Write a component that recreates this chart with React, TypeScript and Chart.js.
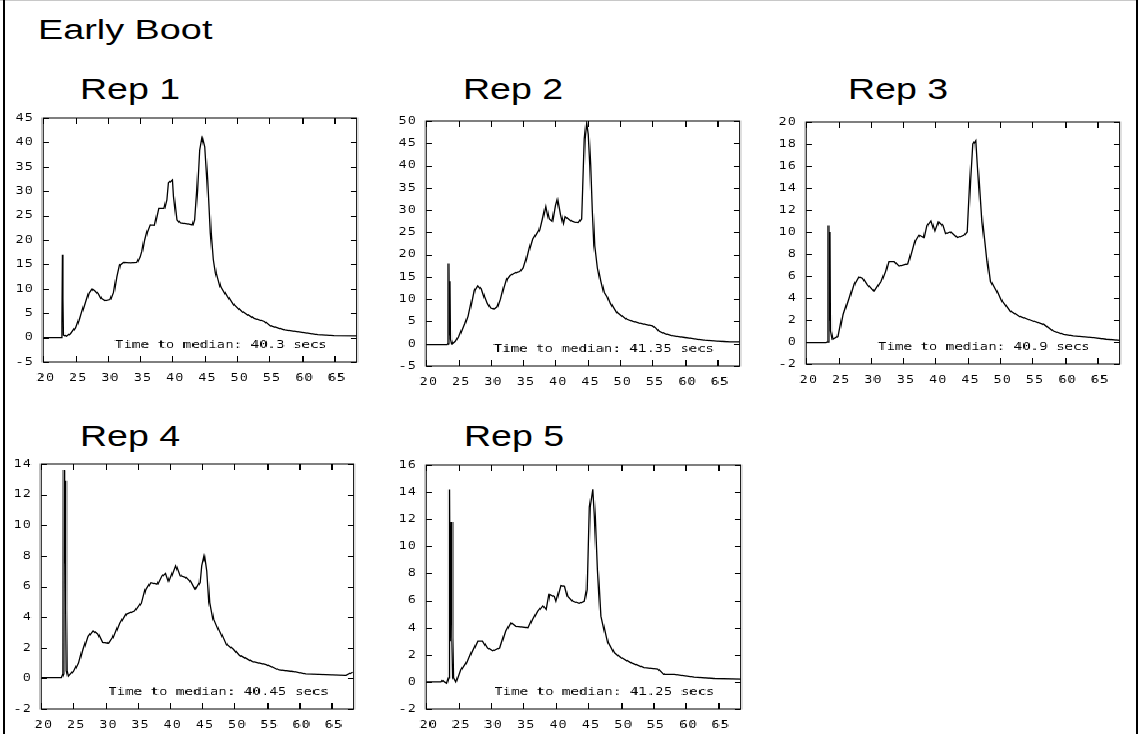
import { useEffect, useRef } from "react";
import { Chart, registerables } from "chart.js";

Chart.register(...registerables);

// Trace samples per replicate: [seconds, rate]
const rep1Trace: [number, number][] = [
  [20.0, 0], [22.8, 0], [22.9, 3], [23.0, 17], [23.1, 8], [23.2, 0.5], [23.6, 0.3], [24.2, 0.8],
  [25.0, 2], [25.5, 3.5], [26.0, 5.3], [26.5, 7], [27.1, 9.1], [27.6, 9.9], [28.0, 9.6], [28.5, 9],
  [29.0, 8], [29.6, 7.6], [30.4, 7.8], [30.9, 9.2], [31.4, 12.5], [31.9, 14.9], [32.5, 15.4],
  [33.5, 15.3], [34.5, 15.4], [35.0, 16.5], [35.3, 17.6], [35.7, 20], [36.1, 21.7], [36.6, 23.1],
  [37.2, 23], [37.6, 25], [37.9, 26.5], [38.7, 26.5], [39.1, 28.2], [39.4, 31.7], [40.0, 32.3],
  [40.2, 28.9], [40.7, 24.1], [41.2, 23.5], [42.3, 23.3], [43.1, 23.1], [43.4, 24.1], [43.8, 30.2],
  [44.2, 38.4], [44.6, 40.8], [45.0, 39.1], [45.4, 32.3], [45.9, 21.4], [46.3, 16], [46.7, 13.2],
  [47.4, 10.4], [48.5, 8.4], [49.5, 6.7], [50.8, 5.3], [52.6, 3.95], [54.2, 3.3], [55.2, 2.4],
  [57.3, 1.6], [59.8, 1.1], [62.4, 0.6], [65.0, 0.4], [68.6, 0.35],
];

const rep2Trace: [number, number][] = [
  [20, -0.2], [23.3, -0.2], [23.45, 0], [23.5, 18], [23.6, 2], [23.7, 14], [23.8, 1], [24.0, 0],
  [24.5, 0.5], [25, 1.5], [26, 4.5], [26.5, 6.2], [27, 9], [27.5, 12], [28, 13], [28.5, 12.3],
  [29, 10.5], [29.5, 9], [30, 8], [30.5, 7.8], [31, 8.3], [31.5, 10], [32, 12.5], [32.5, 14.5],
  [33, 15.3], [33.5, 15.7], [34, 16], [34.5, 16.2], [35, 17], [35.5, 19], [36, 21.5], [36.5, 23.5],
  [37, 24.5], [37.5, 25.5], [38, 28], [38.5, 30.8], [38.8, 29], [39, 28], [39.5, 27.5], [40, 31],
  [40.3, 32.3], [40.8, 29], [41.2, 27], [41.5, 28.5], [42, 28], [42.5, 27.5], [43, 27.3],
  [43.5, 27.2], [44, 28], [44.2, 35], [44.5, 46], [44.8, 49.5], [45.1, 47], [45.4, 40], [45.7, 30],
  [46, 22], [46.5, 17], [47, 14], [47.5, 11.5], [48, 10.5], [48.5, 9], [49, 8], [49.5, 7],
  [50, 6.5], [51, 5.5], [52, 5], [53, 4.6], [54, 4.3], [55, 4], [55.5, 3.5], [56, 2.8], [57, 2.2],
  [58, 1.8], [59, 1.6], [60, 1.4], [61, 1.2], [62, 1.0], [63, 0.8], [64, 0.7], [65, 0.6],
  [66, 0.5], [67, 0.4], [68.6, 0.4],
];

const rep3Trace: [number, number][] = [
  [20, -0.05], [23.1, -0.05], [23.4, 0], [23.5, 10.6], [23.6, 2], [23.7, 10], [23.8, 1],
  [24.1, 0.25], [24.9, 0.5], [25.7, 2.5], [26.7, 4], [27.5, 5.3], [28.2, 5.9], [28.7, 5.8],
  [29.5, 5.2], [30.5, 4.65], [31.6, 5.5], [32.3, 6.4], [32.8, 7.3], [33.6, 7.3], [34.4, 6.9],
  [35.7, 7.1], [36.4, 8.3], [36.9, 9.2], [37.5, 9.7], [38.2, 9.5], [38.7, 10.6], [39.3, 11.0],
  [39.9, 10.1], [40.5, 10.9], [41.1, 10.6], [41.6, 9.85], [42.3, 10], [43.4, 9.5], [44.4, 9.7],
  [44.9, 10], [45.4, 14.8], [45.8, 18], [46.2, 18.3], [46.5, 16], [47.2, 10.9], [48.0, 7.3],
  [48.5, 5.5], [49.5, 4.6], [50.3, 3.7], [51.6, 2.8], [53.1, 2.3], [54.6, 2.0], [56.7, 1.6],
  [58.2, 1.0], [59.8, 0.7], [61.3, 0.55], [64.4, 0.4], [66.4, 0.25], [68.6, 0.15],
];

const rep4Trace: [number, number][] = [
  [20, 0.05], [23.2, 0.05], [23.5, 0.3], [23.57, 13.6], [23.65, 7.5], [23.75, 12.9], [23.85, 4.5],
  [23.95, 0.5], [24.2, 0.15], [25, 0.45], [25.8, 1.0], [26.5, 1.9], [27.3, 2.75], [28.1, 3.1],
  [28.8, 2.9], [29.6, 2.35], [30.4, 2.3], [31.1, 2.65], [32.2, 3.6], [33.2, 4.2], [34.5, 4.4],
  [35.5, 4.9], [36.2, 5.8], [37.0, 6.25], [38.0, 6.15], [38.8, 6.7], [39.3, 6.85], [39.8, 6.35],
  [40.3, 6.8], [40.9, 7.35], [41.6, 6.7], [42.4, 6.6], [43.1, 6.35], [43.9, 5.85], [44.6, 6.25],
  [44.9, 7.35], [45.3, 7.95], [45.7, 7.0], [46.1, 4.95], [46.7, 3.85], [47.5, 3.2], [48.8, 2.2],
  [49.8, 1.9], [50.8, 1.5], [52.8, 1.1], [54.9, 0.9], [56.9, 0.55], [59.0, 0.45], [61.0, 0.3],
  [64.1, 0.25], [67.2, 0.2], [68.3, 0.4],
];

const rep5Trace: [number, number][] = [
  [20, 0], [22.3, 0], [22.5, 0.1], [22.8, 0], [23.2, -0.1], [23.5, 0.3], [23.6, 14.2],
  [23.75, 3], [23.9, 11.8], [24.05, 3.3], [24.2, 0.3], [24.6, 0], [25.4, 0.9], [26.2, 1.4],
  [27.0, 2.15], [28.0, 3.0], [28.7, 3.0], [29.5, 2.5], [30.3, 2.3], [31.3, 2.5], [32.3, 3.75],
  [33.1, 4.35], [33.9, 4.1], [35.7, 4.0], [36.4, 4.6], [37.2, 5.2], [38.0, 5.6], [38.5, 5.35],
  [39.0, 6.45], [39.7, 6.3], [40.0, 5.95], [40.8, 7.1], [41.3, 7.05], [41.8, 6.3], [42.6, 5.95],
  [43.6, 5.8], [44.4, 5.95], [44.8, 6.8], [45.2, 12.9], [45.7, 14.2], [46.0, 12.2], [46.4, 8.3],
  [46.9, 4.85], [48.0, 2.9], [49.0, 2.15], [50.0, 1.8], [51.6, 1.4], [53.6, 1.05], [55.7, 0.95],
  [56.7, 0.55], [58.2, 0.55], [61.3, 0.35], [64.4, 0.25], [68.6, 0.2],
];

const repTraces = [rep1Trace, rep2Trace, rep3Trace, rep4Trace, rep5Trace];
const repNames = ["Rep 1", "Rep 2", "Rep 3", "Rep 4", "Rep 5"];
const medianSeconds = [40.3, 41.35, 40.9, 40.45, 41.25];
const yMins = [-5, -5, -2, -2, -2];
const yMaxs = [45, 50, 20, 14, 16];
const ySteps = [5, 5, 2, 2, 2];
const xMin = 20;
const xMax = 68.5;
const xStep = 5;

// Plot-box placement on the page (left, top, right, bottom) and title anchors
const PANEL_BOXES = [
  { l: 43, t: 118, r: 357, b: 362 },
  { l: 426, t: 121, r: 740, b: 366 },
  { l: 806, t: 122, r: 1120, b: 364 },
  { l: 41, t: 464, r: 354, b: 709 },
  { l: 426, t: 465, r: 741, b: 709 },
];
const TITLE_POS = [
  { x: 80, y: 74 },
  { x: 463, y: 74 },
  { x: 848, y: 74 },
  { x: 80, y: 421 },
  { x: 464, y: 421 },
];

// horizontal stretch of the plot canvases
const S = 1.28;
const PAD_L = 40;
const PAD_T = 12;
const PAD_R = 12;
const PAD_B = 30;

const framePlugin = {
  id: "frameTicks",
  beforeDraw(chart: any) {
    chart.ctx.letterSpacing = "0.6px";
  },
  afterDraw(chart: any, _args: any, opts: any) {
    const { ctx, chartArea: a, scales } = chart;
    const x = scales.x;
    const y = scales.y;
    ctx.save();
    ctx.strokeStyle = "#000";
    ctx.lineWidth = 1;
    ctx.strokeRect(a.left, a.top, a.right - a.left, a.bottom - a.top);
    ctx.beginPath();
    const tlx = 6;
    const tly = 6 / S;
    x.ticks.forEach((t: any) => {
      const px = Math.round(x.getPixelForValue(t.value)) + 0.5;
      ctx.moveTo(px, a.top);
      ctx.lineTo(px, a.top + tlx);
      ctx.moveTo(px, a.bottom);
      ctx.lineTo(px, a.bottom - tlx);
    });
    y.ticks.forEach((t: any) => {
      const py = Math.round(y.getPixelForValue(t.value)) + 0.5;
      ctx.moveTo(a.left, py);
      ctx.lineTo(a.left + tly, py);
      ctx.moveTo(a.right, py);
      ctx.lineTo(a.right - tly, py);
    });
    ctx.stroke();
    ctx.letterSpacing = "0px";
    ctx.font = '11px "DejaVu Sans Mono", monospace';
    ctx.fillStyle = "#000";
    ctx.textAlign = "center";
    ctx.textBaseline = "middle";
    ctx.fillText(opts.text, (a.left + a.right) / 2 + 21 / S, a.bottom - 17);
    ctx.restore();
  },
};

function Panel({ idx }: { idx: number }) {
  const ref = useRef<HTMLCanvasElement>(null);
  const box = PANEL_BOXES[idx];
  const dispW = box.r - box.l + PAD_L + PAD_R;
  const dispH = box.b - box.t + PAD_T + PAD_B;
  const innerW = Math.round(dispW / S);

  useEffect(() => {
    const canvas = ref.current;
    if (!canvas) return;
    const tickFont = { family: '"DejaVu Sans Mono", monospace', size: 11 };
    const chart = new Chart(canvas, {
      type: "line",
      data: {
        datasets: [
          {
            data: repTraces[idx].map(([t, v]) => ({ x: t, y: v })),
            borderColor: "#000",
            borderWidth: 1.3,
            pointRadius: 0,
            tension: 0,
            fill: false,
          },
        ],
      },
      options: {
        responsive: false,
        animation: false,
        devicePixelRatio: 1,
        layout: { padding: { top: PAD_T, right: PAD_R / S, left: 0, bottom: 0 } },
        plugins: {
          legend: { display: false },
          tooltip: { enabled: false },
          frameTicks: { text: `Time to median: ${medianSeconds[idx]} secs` },
        } as any,
        scales: {
          x: {
            type: "linear",
            min: xMin,
            max: xMax,
            grid: { display: false, drawTicks: false },
            border: { display: false },
            ticks: {
              stepSize: xStep,
              includeBounds: false,
              autoSkip: false,
              maxRotation: 0,
              color: "#000",
              font: tickFont,
              padding: 10,
              labelOffset: 2,
            },
            afterFit: (s: any) => {
              s.height = PAD_B;
              s.paddingLeft = 0;
              s.paddingRight = 0;
            },
          },
          y: {
            type: "linear",
            min: yMins[idx],
            max: yMaxs[idx],
            grid: { display: false, drawTicks: false },
            border: { display: false },
            ticks: {
              stepSize: ySteps[idx],
              includeBounds: false,
              autoSkip: false,
              color: "#000",
              font: tickFont,
              padding: 7,
            },
            afterFit: (s: any) => {
              s.width = PAD_L / S;
              s.paddingTop = 0;
              s.paddingBottom = 0;
            },
          },
        },
      },
      plugins: [framePlugin as any],
    });
    return () => chart.destroy();
  }, [idx]);

  return (
    <canvas
      ref={ref}
      width={innerW}
      height={dispH}
      style={{
        position: "absolute",
        left: box.l - PAD_L,
        top: box.t - PAD_T,
        width: dispW,
        height: dispH,
        imageRendering: "pixelated",
      }}
    />
  );
}

const headFont = '"Liberation Sans", Arial, Helvetica, sans-serif';

export default function App() {
  return (
    <div
      style={{
        position: "fixed",
        left: 0,
        top: 0,
        width: 1138,
        height: 734,
        background: "#fff",
        overflow: "hidden",
      }}
    >
      <div style={{ position: "absolute", left: 0, top: 0, width: 1138, height: 1, background: "#c8c8c8" }} />
      <div style={{ position: "absolute", left: 3, top: 0, width: 2, height: 734, background: "#000" }} />
      <div style={{ position: "absolute", left: 1136, top: 0, width: 2, height: 734, background: "#000" }} />
      <div
        style={{
          position: "absolute",
          left: 38,
          top: 17,
          fontFamily: headFont,
          fontSize: 27,
          lineHeight: "27px",
          transform: "scaleX(1.4)",
          transformOrigin: "left top",
          whiteSpace: "nowrap",
          color: "#000",
        }}
      >
        Early Boot
      </div>
      {repNames.map((name, i) => (
        <div
          key={name}
          style={{
            position: "absolute",
            left: TITLE_POS[i].x,
            top: TITLE_POS[i].y,
            fontFamily: headFont,
            fontSize: 30,
            lineHeight: "30px",
            transform: "scaleX(1.25)",
            transformOrigin: "left top",
            whiteSpace: "nowrap",
            color: "#000",
          }}
        >
          {name}
        </div>
      ))}
      {repTraces.map((_, i) => (
        <Panel key={i} idx={i} />
      ))}
    </div>
  );
}
